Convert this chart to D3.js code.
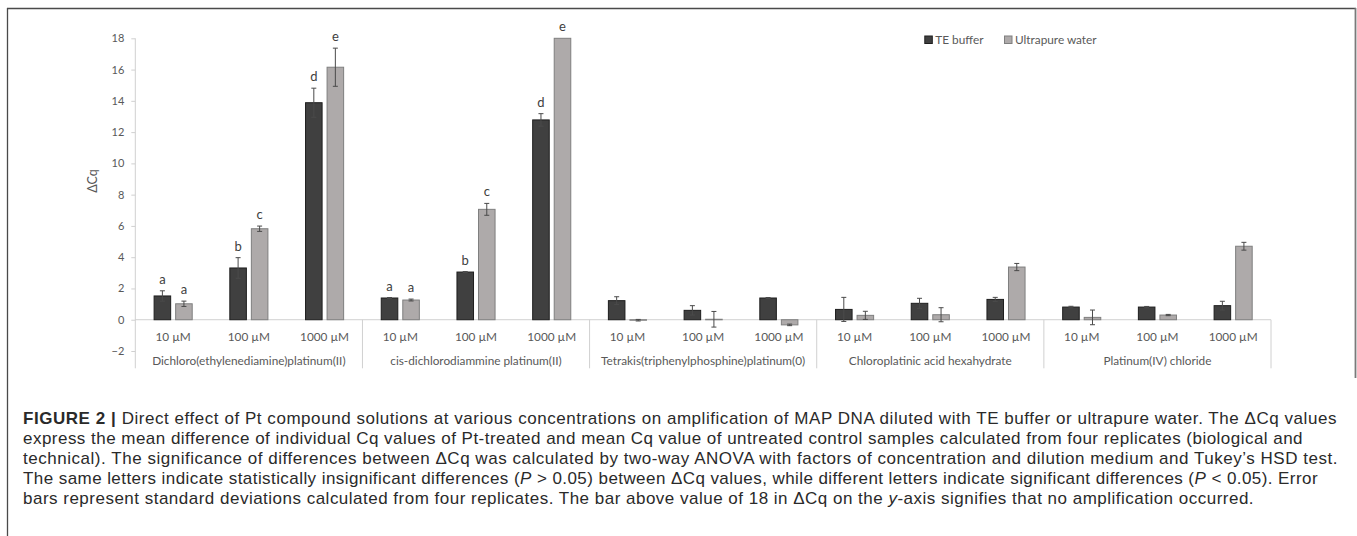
<!DOCTYPE html>
<html>
<head>
<meta charset="utf-8">
<script src="https://cdn.jsdelivr.net/npm/d3@7"></script>
<style>
  html, body { margin: 0; padding: 0; background: #fff; }
  svg { display: block; }
</style>
</head>
<body>
<svg id="chart" width="1357" height="536"></svg>
<script>
// ---------------- DATA ----------------
const groups = [
  "Dichloro(ethylenediamine)platinum(II)",
  "cis-dichlorodiammine platinum(II)",
  "Tetrakis(triphenylphosphine)platinum(0)",
  "Chloroplatinic acid hexahydrate",
  "Platinum(IV) chloride"
];
const concentrations = ["10 µM", "100 µM", "1000 µM"];
const seriesNames = ["TE buffer", "Ultrapure water"];

// values per group, per concentration (group0: 10,100,1000; group1: ...)
const teValues = [1.52, 3.31, 13.88,  1.39, 3.05, 12.78,  1.22, 0.60, 1.39,  0.66, 1.05, 1.30,  0.81, 0.81, 0.90];
const teSD     = [0.33, 0.66, 0.93,   0.03, 0.03, 0.40,   0.25, 0.30, 0.03,  0.77, 0.32, 0.13,  0.05, 0.04, 0.28];
const uwValues = [1.02, 5.82, 16.15,  1.26, 7.06, 18.0,  -0.03, 0.03, -0.33, 0.28, 0.32, 3.37,  0.15, 0.30, 4.70];
const uwSD     = [0.17, 0.17, 1.22,   0.06, 0.38, null,   0.05, 0.50, 0.05,  0.26, 0.45, 0.23,  0.47, 0.04, 0.25];
const teLetters = ["a", "b", "d",  "a", "b", "d",  "", "", "",  "", "", "",  "", "", ""];
const uwLetters = ["a", "c", "e",  "a", "c", "e",  "", "", "",  "", "", "",  "", "", ""];

const yTicks = [-2, 0, 2, 4, 6, 8, 10, 12, 14, 16, 18];
const yLabel = "ΔCq";

const captionLines = [
  [{t: "FIGURE 2 |", b: true}, {t: " Direct effect of Pt compound solutions at various concentrations on amplification of MAP DNA diluted with TE buffer or ultrapure water. The ΔCq values"}],
  [{t: "express the mean difference of individual Cq values of Pt-treated and mean Cq value of untreated control samples calculated from four replicates (biological and"}],
  [{t: "technical). The significance of differences between ΔCq was calculated by two-way ANOVA with factors of concentration and dilution medium and Tukey’s HSD test."}],
  [{t: "The same letters indicate statistically insignificant differences ("}, {t: "P", i: true}, {t: " > 0.05) between ΔCq values, while different letters indicate significant differences ("}, {t: "P", i: true}, {t: " < 0.05). Error"}],
  [{t: "bars represent standard deviations calculated from four replicates. The bar above value of 18 in ΔCq on the "}, {t: "y", i: true}, {t: "-axis signifies that no amplification occurred."}]
];
const captionEnds = [1337, 1303, 1338, 1318, 1254];

// ---------------- BUILD ROWS ----------------
const rows = [];
groups.forEach((g, gi) => {
  concentrations.forEach((c, ci) => {
    const k = gi * 3 + ci;
    rows.push({group: g, conc: c, series: seriesNames[0], value: teValues[k], sd: teSD[k], letter: teLetters[k]});
    rows.push({group: g, conc: c, series: seriesNames[1], value: uwValues[k], sd: uwSD[k], letter: uwLetters[k]});
  });
});

// ---------------- LAYOUT ----------------
const svg = d3.select("#chart");
const plotLeft = 135.3, plotRight = 1271, yTop = 38.3, yBottom = 351, catBottom = 368.3;

const xGroup = d3.scaleBand().domain(groups).range([plotLeft, plotRight]).padding(0);
const xConc = d3.scaleBand().domain(concentrations).range([0, xGroup.bandwidth()]).padding(0);
const xSeries = d3.scaleBand().domain(seriesNames).range([0, xConc.bandwidth()])
  .paddingInner(0.185).paddingOuter(0.85);
const y = d3.scaleLinear().domain([-2, 18]).range([yBottom, yTop]);

const colors = {"TE buffer": "#404040", "Ultrapure water": "#aeaaaa"};
const strokes = {"TE buffer": "#1e1e1e", "Ultrapure water": "#7f7f7f"};

const tickFont = "Lato, 'Open Sans', sans-serif";
const tickSize = 11.8;
const tickColor = "#595959";
const axisColor = "#d0d0d0";

// frame
svg.append("line").attr("x1", 7).attr("x2", 1356).attr("y1", 8.5).attr("y2", 8.5)
  .attr("stroke", "#4a4a4a").attr("stroke-width", 1.6);
svg.append("line").attr("x1", 7.5).attr("x2", 7.5).attr("y1", 8).attr("y2", 536)
  .attr("stroke", "#4a4a4a").attr("stroke-width", 1.3);
svg.append("line").attr("x1", 1355.5).attr("x2", 1355.5).attr("y1", 8).attr("y2", 378)
  .attr("stroke", "#7a7a7a").attr("stroke-width", 1.8);

// y axis
const yAxis = d3.axisLeft(y).tickValues(yTicks).tickSize(4).tickPadding(7).tickFormat(d3.format("d"));
const gy = svg.append("g").attr("transform", `translate(${plotLeft},0)`).call(yAxis);
gy.select(".domain").remove();
gy.selectAll(".tick line").attr("stroke", axisColor);
gy.selectAll(".tick text").attr("fill", tickColor).attr("font-family", tickFont).attr("font-size", 11);
svg.append("line").attr("x1", plotLeft).attr("x2", plotLeft).attr("y1", yTop).attr("y2", catBottom)
  .attr("stroke", axisColor);

svg.append("text").attr("transform", `translate(97,181) rotate(-90)`)
  .attr("text-anchor", "middle").attr("font-family", tickFont).attr("font-size", 12.5)
  .attr("fill", tickColor).text(yLabel);

// category axis (zero line)
svg.append("line").attr("x1", plotLeft).attr("x2", plotRight).attr("y1", y(0)).attr("y2", y(0))
  .attr("stroke", axisColor);
// group separators
svg.selectAll("line.sep").data(groups.slice(1).concat(["__end"])).join("line").attr("class", "sep")
  .attr("x1", d => d === "__end" ? plotRight : xGroup(d))
  .attr("x2", d => d === "__end" ? plotRight : xGroup(d))
  .attr("y1", y(0)).attr("y2", catBottom).attr("stroke", axisColor);

// labels
const gGroups = svg.selectAll("g.grp").data(groups).join("g").attr("class", "grp")
  .attr("transform", d => `translate(${xGroup(d)},0)`);
gGroups.selectAll("text.conc").data(concentrations).join("text").attr("class", "conc")
  .attr("x", d => xConc(d) + xConc.bandwidth() / 2).attr("y", 340.5)
  .attr("text-anchor", "middle").attr("font-family", tickFont).attr("font-size", tickSize)
  .attr("fill", tickColor).text(d => d);
gGroups.append("text").attr("x", xGroup.bandwidth() / 2).attr("y", 365)
  .attr("text-anchor", "middle").attr("font-family", tickFont).attr("font-size", tickSize)
  .attr("fill", tickColor).text(d => d);

// bars
const bx = d => xGroup(d.group) + xConc(d.conc) + xSeries(d.series);
svg.append("g").selectAll("rect").data(rows).join("rect")
  .attr("x", d => bx(d) + 0.5)
  .attr("width", xSeries.bandwidth() - 1)
  .attr("y", d => Math.min(y(d.value), y(0)))
  .attr("height", d => Math.max(Math.abs(y(d.value) - y(0)), 0.5))
  .attr("fill", d => colors[d.series])
  .attr("stroke", d => strokes[d.series]).attr("stroke-width", 1);

// error bars
const eb = svg.append("g").selectAll("g").data(rows.filter(d => d.sd != null)).join("g")
  .attr("stroke", "#4a4a4a").attr("stroke-width", 1);
const cx = d => bx(d) + xSeries.bandwidth() / 2;
eb.append("line").attr("x1", cx).attr("x2", cx)
  .attr("y1", d => y(d.value + d.sd)).attr("y2", d => y(d.value - d.sd));
eb.append("line").attr("x1", d => cx(d) - 2.5).attr("x2", d => cx(d) + 2.5)
  .attr("y1", d => y(d.value + d.sd)).attr("y2", d => y(d.value + d.sd));
eb.append("line").attr("x1", d => cx(d) - 2.5).attr("x2", d => cx(d) + 2.5)
  .attr("y1", d => y(d.value - d.sd)).attr("y2", d => y(d.value - d.sd));

// letters
svg.append("g").selectAll("text").data(rows.filter(d => d.letter)).join("text")
  .attr("x", cx).attr("y", d => y(d.value + (d.sd || 0)) - 7)
  .attr("text-anchor", "middle").attr("font-family", tickFont).attr("font-size", 13)
  .attr("fill", "#404040").text(d => d.letter);

// legend
const legX = [924.3, 1004];
const leg = svg.append("g").selectAll("g").data(seriesNames).join("g")
  .attr("transform", (d, i) => `translate(${legX[i]},35.5)`);
leg.append("rect").attr("x", 0.5).attr("y", 0.5).attr("width", 7.5).attr("height", 7.5)
  .attr("fill", d => colors[d]).attr("stroke", d => strokes[d]);
leg.append("text").attr("x", 11).attr("y", 8.2).attr("font-family", tickFont).attr("font-size", tickSize)
  .attr("fill", tickColor).text(d => d);

// caption
const capX = 23, capY0 = 424, capDy = 20.1;
const capFont = "'Liberation Sans', Arial, sans-serif";
const capTexts = captionLines.map((parts, li) => {
  const t = svg.append("text").attr("x", capX).attr("y", capY0 + li * capDy)
    .attr("font-family", capFont).attr("font-size", 15).attr("fill", "#2a2a2a");
  parts.forEach(p => {
    const s = t.append("tspan").text(p.t);
    if (p.b) s.attr("font-weight", 700);
    if (p.i) s.attr("font-style", "italic");
  });
  return t;
});
// common font size fitted on full-width line 3
const refLen = capTexts[2].node().getComputedTextLength();
const capSize = Math.min(17, 15 * (captionEnds[2] - capX) / refLen * 0.985);
capTexts.forEach((t, li) => {
  t.attr("font-size", capSize.toFixed(2));
  const natural = t.node().getComputedTextLength();
  const nChars = captionLines[li].map(p => p.t).join("").length;
  t.attr("letter-spacing", ((captionEnds[li] - capX - natural) / nChars).toFixed(3));
});
</script>
</body>
</html>
